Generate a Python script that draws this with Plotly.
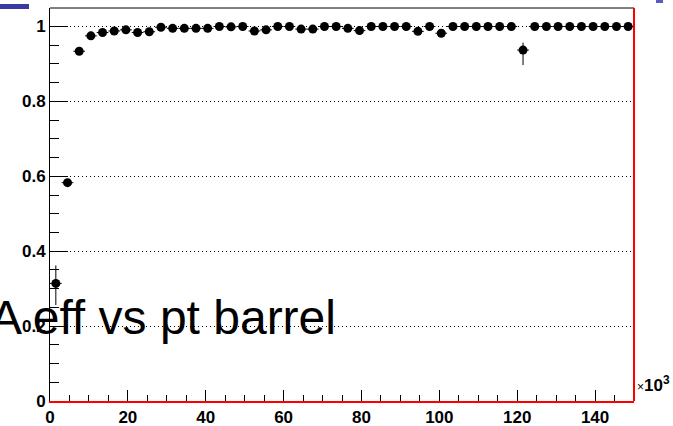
import plotly.graph_objects as go

# Bin centres of the pt histogram (units of 10^3)
pt_centers = [
    1.5, 4.5, 7.5, 10.5, 13.5, 16.5, 19.5, 22.5, 25.5, 28.5,
    31.5, 34.5, 37.5, 40.5, 43.5, 46.5, 49.5, 52.5, 55.5, 58.5,
    61.5, 64.5, 67.5, 70.5, 73.5, 76.5, 79.5, 82.5, 85.5, 88.5,
    91.5, 94.5, 97.5, 100.5, 103.5, 106.5, 109.5, 112.5, 115.5, 118.5,
    121.5, 124.5, 127.5, 130.5, 133.5, 136.5, 139.5, 142.5, 145.5, 148.5,
]
bin_half_width = [1.5] * 50

efficiency = [
    0.314, 0.583, 0.934, 0.975, 0.984, 0.988, 0.991, 0.984, 0.986, 0.998,
    0.995, 0.995, 0.995, 0.995, 1.0, 0.999, 1.0, 0.988, 0.991, 1.0,
    1.0, 0.993, 0.993, 1.0, 1.0, 0.995, 0.989, 1.0, 1.0, 1.0,
    1.0, 0.987, 1.0, 0.982, 1.0, 1.0, 1.0, 1.0, 1.0, 1.0,
    0.937, 1.0, 1.0, 1.0, 1.0, 1.0, 1.0, 1.0, 1.0, 1.0,
]
err_up = [
    0.048, 0.010, 0.008, 0.005, 0.004, 0.004, 0.003, 0.004, 0.004, 0.002,
    0.003, 0.003, 0.003, 0.003, 0.0, 0.001, 0.0, 0.004, 0.003, 0.0,
    0.0, 0.003, 0.003, 0.0, 0.0, 0.003, 0.004, 0.0, 0.0, 0.0,
    0.0, 0.005, 0.0, 0.006, 0.0, 0.0, 0.0, 0.0, 0.0, 0.0,
    0.020, 0.0, 0.0, 0.0, 0.0, 0.0, 0.0, 0.0, 0.0, 0.0,
]
err_down = [
    0.058, 0.010, 0.008, 0.005, 0.004, 0.004, 0.004, 0.004, 0.004, 0.003,
    0.004, 0.004, 0.004, 0.004, 0.003, 0.003, 0.003, 0.005, 0.004, 0.003,
    0.003, 0.004, 0.004, 0.003, 0.003, 0.004, 0.005, 0.003, 0.003, 0.003,
    0.003, 0.006, 0.003, 0.007, 0.003, 0.003, 0.003, 0.003, 0.003, 0.003,
    0.040, 0.004, 0.004, 0.004, 0.004, 0.004, 0.004, 0.004, 0.004, 0.004,
]

y_ticks = [0, 0.2, 0.4, 0.6, 0.8, 1.0]
y_tick_text = ["0", "0.2", "0.4", "0.6", "0.8", "1"]
x_ticks = [0, 20, 40, 60, 80, 100, 120, 140]
x_tick_text = ["0", "20", "40", "60", "80", "100", "120", "140"]

W, H = 673, 426
L, R, T, B = 50, 39, 8, 25
plot_w, plot_h = W - L - R, H - T - B


def px_x(px):
    return (px - L) / plot_w


def px_y(py):
    return (H - B - py) / plot_h


tick_font = dict(family="Liberation Sans, Arial, sans-serif", size=17,
                 color="black", weight="bold")

fig = go.Figure()
fig.add_trace(go.Scatter(
    x=pt_centers, y=efficiency, mode="markers",
    marker=dict(color="black", size=9),
    error_x=dict(type="data", array=bin_half_width, color="black",
                 thickness=1, width=0),
    error_y=dict(type="data", symmetric=False, array=err_up,
                 arrayminus=err_down, color="black", thickness=1, width=0),
    showlegend=False, cliponaxis=False,
))

fig.update_layout(
    width=W, height=H,
    margin=dict(l=L, r=R, t=T, b=B, pad=0, autoexpand=False),
    paper_bgcolor="white", plot_bgcolor="white",
    xaxis=dict(
        range=[0, 150], tickvals=x_ticks, ticktext=x_tick_text,
        ticks="inside", ticklen=11, tickcolor="black", tickwidth=1,
        minor=dict(dtick=5, ticks="inside", ticklen=6, tickcolor="black"),
        showline=True, linecolor="red", linewidth=2,
        showgrid=False, zeroline=False, tickfont=tick_font,
        ticklabelstandoff=0, automargin=False,
    ),
    yaxis=dict(
        range=[0, 1.0494], tickvals=y_ticks, ticktext=y_tick_text,
        ticks="inside", ticklen=18, tickcolor="black", tickwidth=1,
        minor=dict(dtick=0.05, ticks="inside", ticklen=9, tickcolor="black",
                   showgrid=False),
        showline=True, linecolor="black", linewidth=1,
        showgrid=True, gridcolor="black", gridwidth=1, griddash="1px,3px",
        zeroline=False, tickfont=tick_font, automargin=False,
    ),
    shapes=[
        # frame: top edge black, right edge red
        dict(type="line", xref="paper", yref="paper", x0=0, x1=1, y0=1, y1=1,
             line=dict(color="black", width=1)),
        dict(type="line", xref="paper", yref="paper", x0=1, x1=1, y0=0, y1=1,
             line=dict(color="red", width=2)),
        # pieces of the canvas header
        dict(type="rect", xref="paper", yref="paper",
             x0=px_x(0), x1=px_x(29), y0=px_y(9), y1=px_y(4),
             fillcolor="#3a3aa2", line=dict(width=0)),
        dict(type="rect", xref="paper", yref="paper",
             x0=px_x(656), x1=px_x(663), y0=px_y(3), y1=px_y(0),
             fillcolor="#5a5ac0", line=dict(width=0)),
    ],
    annotations=[
        dict(text="A eff vs pt barrel", xref="paper", yref="paper",
             x=px_x(-12), y=px_y(317), xanchor="left", yanchor="middle",
             showarrow=False,
             font=dict(family="Liberation Sans, Arial, sans-serif",
                       size=48, color="black")),
        dict(text="<span style='font-size:12px'>×</span><b>10<sup>3</sup></b>",
             xref="paper", yref="paper",
             x=px_x(635), y=px_y(384), xanchor="left", yanchor="middle",
             showarrow=False,
             font=dict(family="Liberation Sans, Arial, sans-serif",
                       size=17, color="black")),
    ],
)

fig.write_html("out.html")
